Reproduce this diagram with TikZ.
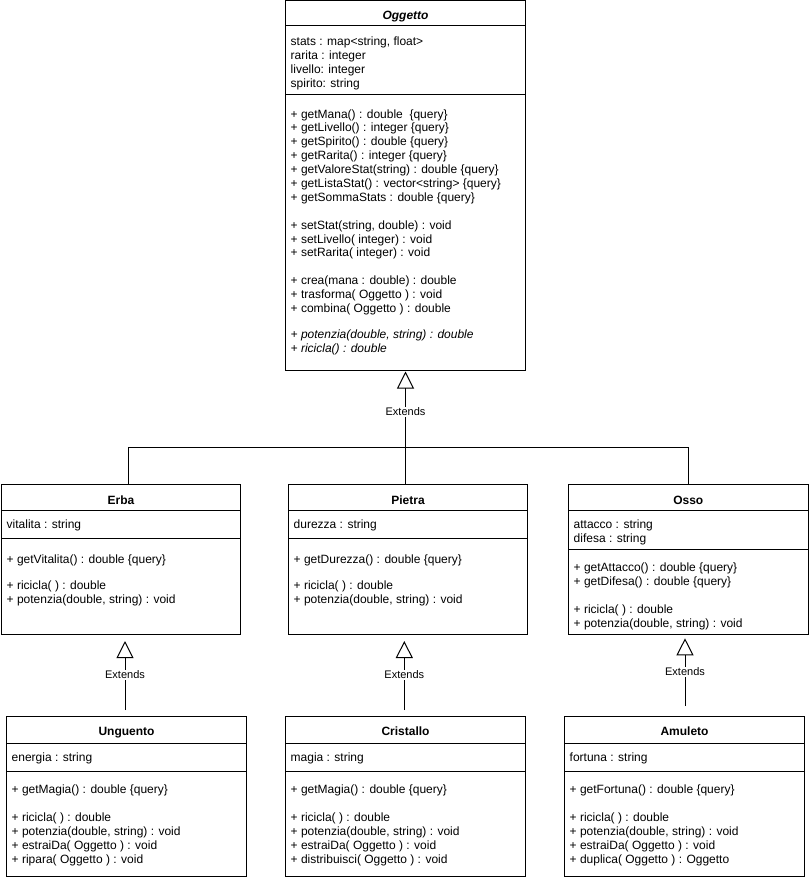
\documentclass[tikz,border=0pt]{standalone}
\usepackage{fontspec}
\setmainfont{Liberation Sans}
\usetikzlibrary{arrows.meta}
\newcommand\rows[1]{\begin{tabular}[t]{@{}l@{}}#1\end{tabular}}
\begin{document}
\begin{tikzpicture}[x=1pt,y=-1pt,
 box/.style={draw, line width=1pt, inner sep=0pt, outer sep=0pt, anchor=north west},
 sep/.style={line width=1pt},
 ttl/.style={font=\fontsize{12}{14}\selectfont\bfseries, anchor=base, inner sep=0pt, yshift=-0.8pt},
 txt/.style={font=\fontsize{12}{13.9}\selectfont, anchor=base west, inner sep=0pt, yshift=-2pt},
 ext/.style={line width=1pt, -{Triangle[open, length=17pt, width=17pt, line width=1pt]}},
 conn/.style={line width=1pt},
 lbl/.style={font=\fontsize{11}{13}\selectfont, fill=white, inner sep=1pt}
]
\useasboundingbox (0,0) rectangle (809,880);
\fill[white] (0,0) rectangle (809,880);

% ---------- Oggetto ----------
\node[box, minimum width=240pt, minimum height=369.5pt] (og) at (285.5,0.5) {};
\draw[sep] (og.west |- 0,26) -- (og.east |- 0,26);
\draw[sep] (og.west |- 0,94.3) -- (og.east |- 0,94.3);
\node[ttl, font=\fontsize{12}{14}\selectfont\bfseries\itshape] (ogT) at (405.5,19) {Oggetto};
\node[txt] (ogA) at (290.5,43.5) {\rows{stats : map<string, float>\\ rarita : integer\\ livello: integer\\ spirito: string}};
\node[txt, yshift=-0.8pt] (ogM) at (290.5,115.2) {\rows{+ getMana() : double~ \{query\}\\
+ getLivello() : integer \{query\}\\
+ getSpirito() : double \{query\}\\
+ getRarita() : integer \{query\}\\
+ getValoreStat(string) : double \{query\}\\
+ getListaStat() : vector<string> \{query\}\\
+ getSommaStats : double \{query\}\\
\\
+ setStat(string, double) : void\\
+ setLivello( integer) : void\\
+ setRarita( integer) : void\\
\\
+ crea(mana : double) : double\\
+ trasforma( Oggetto ) : void\\
+ combina( Oggetto ) : double\\
\\[-2pt]
\itshape + potenzia(double, string) : double\\
\itshape + ricicla() : double}};

% ---------- Erba ----------
\node[box, minimum width=239pt, minimum height=149.5pt] (er) at (1.5,484.5) {};
\draw[sep] (er.west |- 0,510.7) -- (er.east |- 0,510.7);
\draw[sep] (er.west |- 0,538) -- (er.east |- 0,538);
\node[ttl] (erT) at (121,503.5) {Erba};
\node[txt] (erA) at (6.5,526.7) {\rows{vitalita : string}};
\node[txt] (erM) at (6.5,561) {\rows{+ getVitalita() : double \{query\}\\ \\[-1pt] + ricicla( ) : double\\ + potenzia(double, string) : void}};

% ---------- Pietra ----------
\node[box, minimum width=239pt, minimum height=149.5pt] (pi) at (288.5,484.5) {};
\draw[sep] (pi.west |- 0,510.7) -- (pi.east |- 0,510.7);
\draw[sep] (pi.west |- 0,538) -- (pi.east |- 0,538);
\node[ttl] (piT) at (408,503.5) {Pietra};
\node[txt] (piA) at (293.5,526.7) {\rows{durezza : string}};
\node[txt] (piM) at (293.5,561) {\rows{+ getDurezza() : double \{query\}\\ \\[-1pt] + ricicla( ) : double\\ + potenzia(double, string) : void}};

% ---------- Osso ----------
\node[box, minimum width=239.5pt, minimum height=149.5pt] (os) at (568.5,484.5) {};
\draw[sep] (os.west |- 0,510.7) -- (os.east |- 0,510.7);
\draw[sep] (os.west |- 0,549.3) -- (os.east |- 0,549.3);
\node[ttl] (osT) at (688.25,503.5) {Osso};
\node[txt] (osA) at (573.5,526.8) {\rows{attacco : string\\ difesa : string}};
\node[txt] (osM) at (573.5,569.5) {\rows{+ getAttacco() : double \{query\}\\ + getDifesa() : double \{query\}\\ \\ + ricicla( ) : double\\ + potenzia(double, string) : void}};

% ---------- Unguento ----------
\node[box, minimum width=240pt, minimum height=159.5pt] (un) at (6.5,716.5) {};
\draw[sep] (un.west |- 0,743.3) -- (un.east |- 0,743.3);
\draw[sep] (un.west |- 0,771) -- (un.east |- 0,771);
\node[ttl] (unT) at (126.5,735) {Unguento};
\node[txt] (unA) at (11.5,759.2) {\rows{energia : string}};
\node[txt] (unM) at (11.5,791.8) {\rows{+ getMagia() : double \{query\}\\ \\ + ricicla( ) : double\\ + potenzia(double, string) : void\\ + estraiDa( Oggetto ) : void\\ + ripara( Oggetto ) : void}};

% ---------- Cristallo ----------
\node[box, minimum width=240pt, minimum height=159.5pt] (cr) at (285.5,716.5) {};
\draw[sep] (cr.west |- 0,743.3) -- (cr.east |- 0,743.3);
\draw[sep] (cr.west |- 0,771) -- (cr.east |- 0,771);
\node[ttl] (crT) at (405.5,735) {Cristallo};
\node[txt] (crA) at (290.5,759.2) {\rows{magia : string}};
\node[txt] (crM) at (290.5,791.8) {\rows{+ getMagia() : double \{query\}\\ \\ + ricicla( ) : double\\ + potenzia(double, string) : void\\ + estraiDa( Oggetto ) : void\\ + distribuisci( Oggetto ) : void}};

% ---------- Amuleto ----------
\node[box, minimum width=240pt, minimum height=159.5pt] (am) at (564.5,716.5) {};
\draw[sep] (am.west |- 0,743.3) -- (am.east |- 0,743.3);
\draw[sep] (am.west |- 0,771) -- (am.east |- 0,771);
\node[ttl] (amT) at (684.5,735) {Amuleto};
\node[txt] (amA) at (569.5,759.2) {\rows{fortuna : string}};
\node[txt] (amM) at (569.5,791.8) {\rows{+ getFortuna() : double \{query\}\\ \\ + ricicla( ) : double\\ + potenzia(double, string) : void\\ + estraiDa( Oggetto ) : void\\ + duplica( Oggetto ) : Oggetto}};

% ---------- top inheritance ----------
\coordinate (hub) at (405.5,447.3);
\coordinate (erTop) at (128,484.5);
\coordinate (piTop) at (405.5,484.5);
\coordinate (osTop) at (688,484.5);
\coordinate (ogTip) at (405.5,371.5);
\draw[ext] (hub) -- (ogTip);
\draw[conn] (erTop) |- (hub) -| (osTop);
\draw[conn] (hub) -- (piTop);
\node[lbl] (x0) at (405.5,411.7) {Extends};

% ---------- lower inheritance ----------
\coordinate (unEnd) at (125,710);
\coordinate (erTip) at (125,641);
\draw[ext] (unEnd) -- (erTip);
\node[lbl] (x1) at (125,675) {Extends};

\coordinate (crEnd) at (404.3,710);
\coordinate (piTip) at (404.3,641);
\draw[ext] (crEnd) -- (piTip);
\node[lbl] (x2) at (404.3,675) {Extends};

\coordinate (amEnd) at (685,706);
\coordinate (osTip) at (685,638.3);
\draw[ext] (amEnd) -- (osTip);
\node[lbl] (x3) at (685,671.7) {Extends};
\end{tikzpicture}
\end{document}
